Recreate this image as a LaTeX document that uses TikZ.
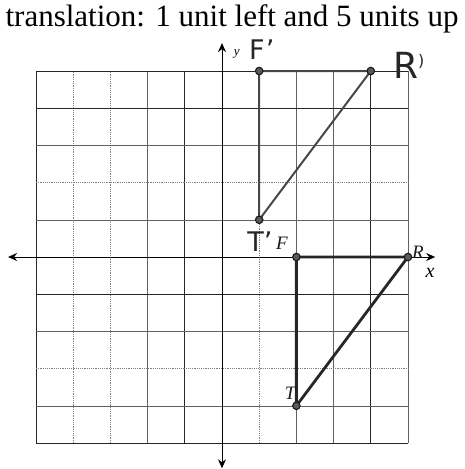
\documentclass[tikz,border=0pt]{standalone}
\usepackage{fontspec}
\setmainfont{Liberation Serif}
\setsansfont{DejaVu Sans}
\usetikzlibrary{arrows.meta}
\begin{document}
\begin{tikzpicture}[x=37.2pt,y=37.2pt,
  gdark/.style={black!85, line width=0.8pt},
  gmid/.style={black!62, line width=0.6pt},
  glight/.style={black!50, line width=0.6pt, dash pattern=on 1.2pt off 1pt},
  axisline/.style={black, line width=0.9pt, {Stealth[length=9pt,width=8pt,inset=3pt]}-{Stealth[length=9pt,width=8pt,inset=3pt]}},
  ptdot/.style={circle, draw=black!90, fill=black!65, line width=1.1pt, inner sep=0pt, minimum size=7.5pt},
  tri/.style={black!85, line width=2.8pt},
  imgtri/.style={black!72, line width=2pt, line cap=round},
  hand/.style={font=\sffamily\fontsize{27}{27}\selectfont, text=black!85},
  lbl/.style={font=\itshape\fontsize{19}{19}\selectfont, text=black!90}]
\useasboundingbox (-5.968,-5.699) rectangle (6.532,6.909);
% grid
\foreach \c/\s in {-5/gdark,-4/glight,-3/glight,-2/gmid,-1/gdark,1/glight,2/gmid,3/gmid,4/gdark,5/gmid}
  \draw[\s] (\c,-5) -- (\c,5);
\foreach \r/\s in {5/gdark,4/gdark,3/gmid,2/glight,1/gmid,-1/gdark,-2/gmid,-3/glight,-4/gmid,-5/gdark}
  \draw[\s] (-5,\r) -- (5,\r);
% axes
\coordinate (xl) at (-5.75,0);
\coordinate (xr) at (5.73,0);
\coordinate (yt) at (0,5.75);
\coordinate (yb) at (0,-5.68);
\draw[axisline] (xl) -- (xr);
\draw[axisline] (yb) -- (yt);
\node[font=\itshape\fontsize{20}{20}\selectfont] (xlab) at (5.59,-0.43) {x};
\node[font=\itshape\fontsize{13}{13}\selectfont] (ylab) at (0.40,5.46) {y};
% title
\node[font=\fontsize{31}{31}\selectfont] (title) at (0.27,6.40) {translation: 1 unit left and 5 units up};
% original triangle
\coordinate (F) at (2,0);
\coordinate (R) at (5,0);
\coordinate (T) at (2,-4);
\draw[tri] (F) -- (R) -- (T) -- cycle;
\node[ptdot] (Fd) at (F) {};
\node[ptdot] (Rd) at (R) {};
\node[ptdot] (Td) at (T) {};
\node[lbl] (Flab) at (1.61,0.36) {F};
\node[lbl] (Rlab) at (5.27,0.14) {R};
\node[lbl] (Tlab) at (1.83,-3.66) {T};
% image triangle
\coordinate (F1) at (1,5);
\coordinate (R1) at (4,5);
\coordinate (T1) at (1,1);
\draw[imgtri] (F1) -- (R1) -- (T1) -- cycle;
\node[ptdot] (F1d) at (F1) {};
\node[ptdot] (R1d) at (R1) {};
\node[ptdot] (T1d) at (T1) {};
\node[hand] (F1lab) at (1.07,5.58) {F\kern1pt’};
\node[hand, font=\sffamily\fontsize{36}{36}\selectfont] (R1lab) at (5.02,5.14) {R\raisebox{12pt}{\fontsize{16}{16}\selectfont)}};
\node[hand] (T1lab) at (1.02,0.40) {T’};
\end{tikzpicture}
\end{document}
